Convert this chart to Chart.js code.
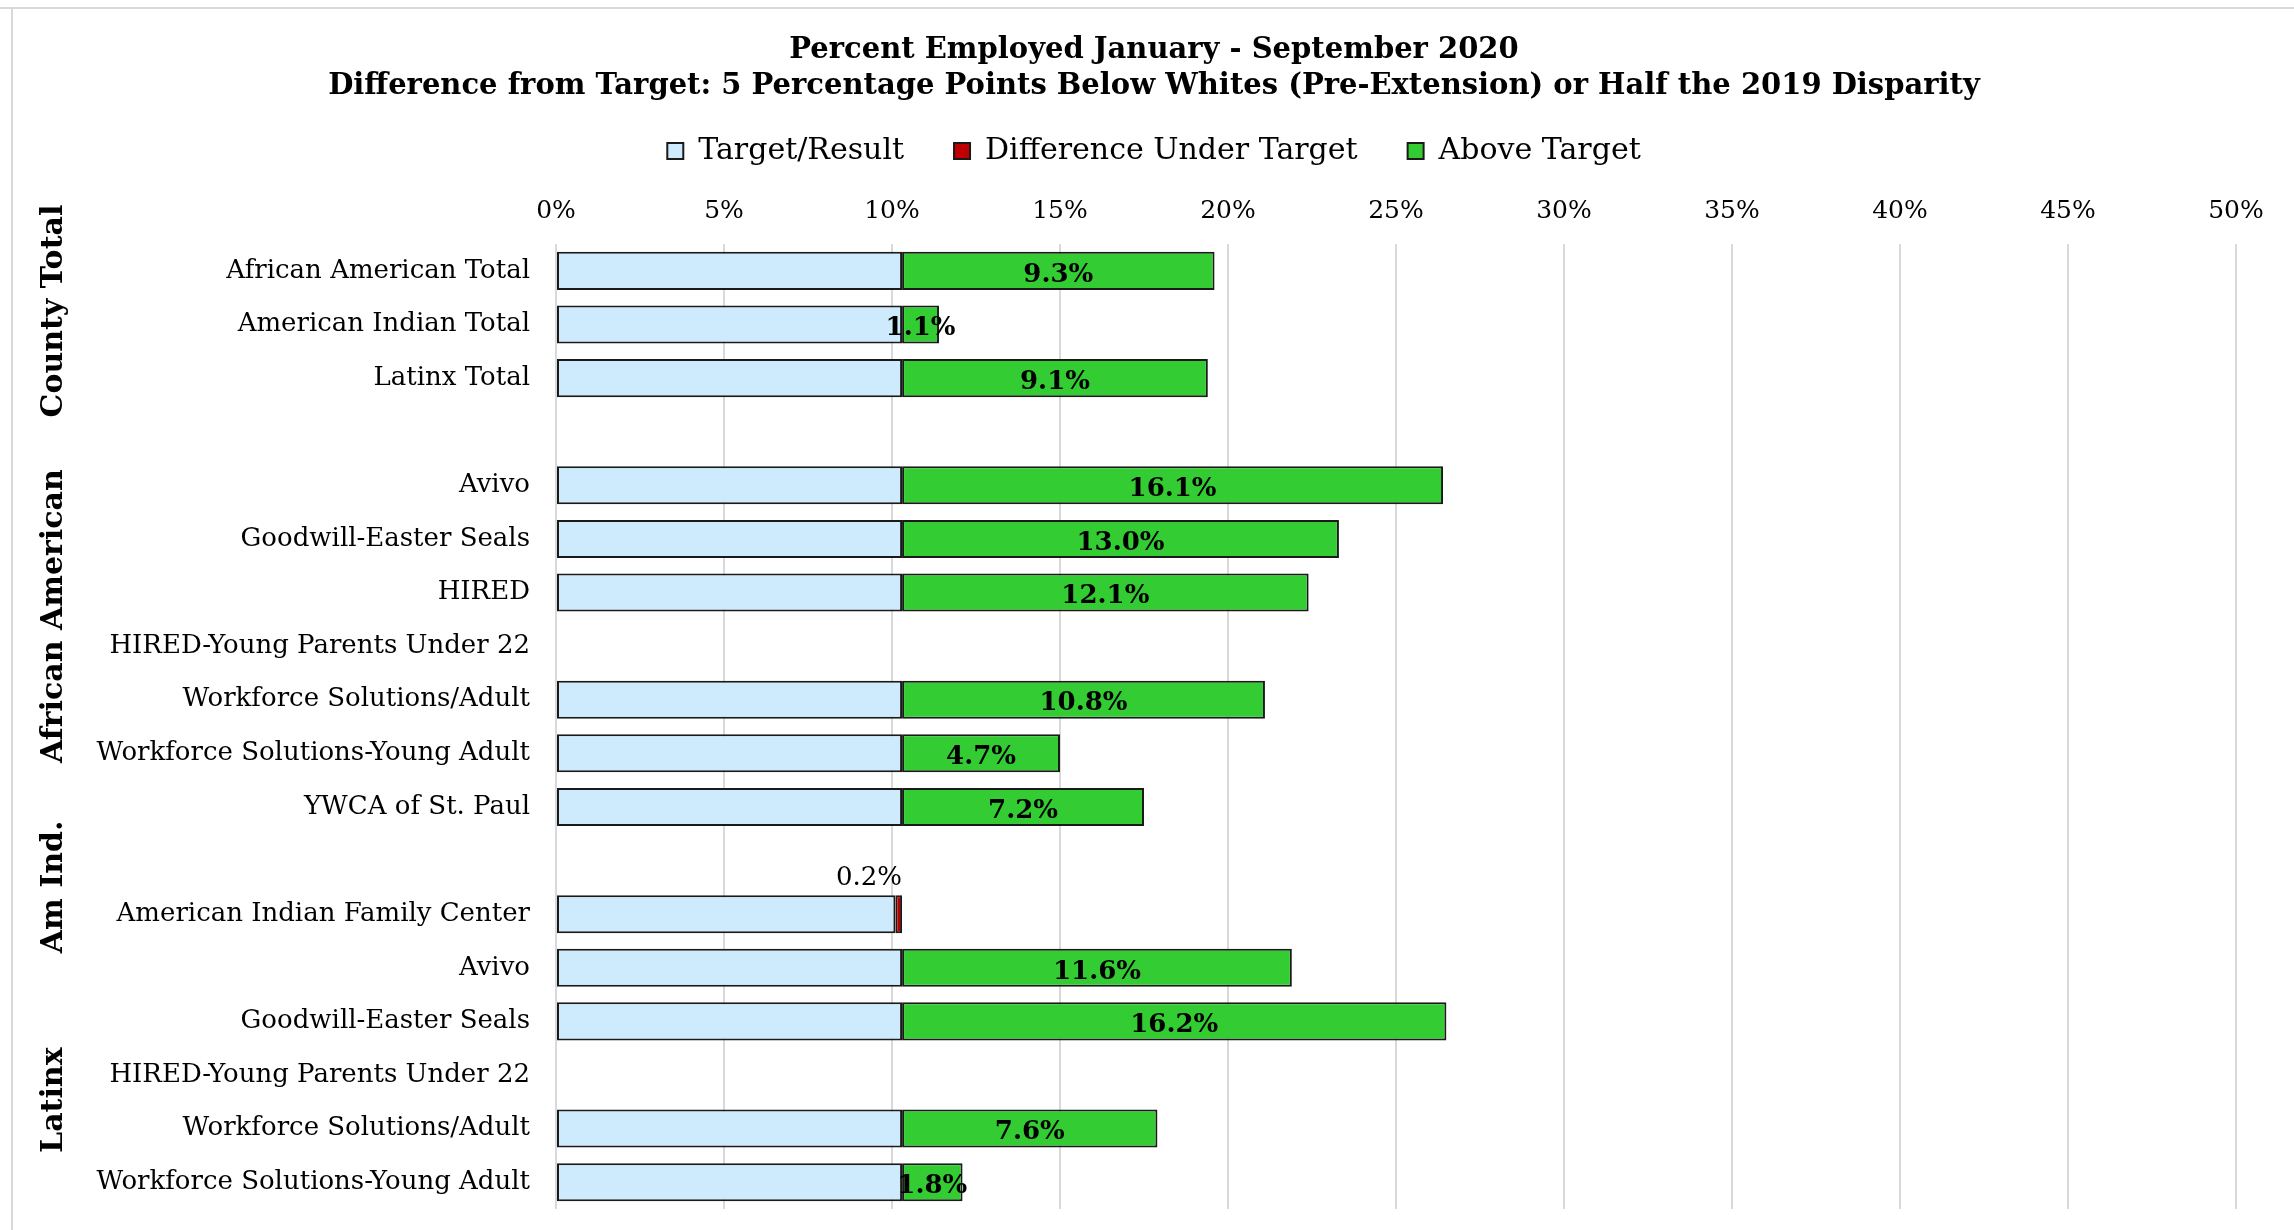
<!DOCTYPE html>
<html>
<head>
<meta charset="utf-8">
<script src="https://cdn.jsdelivr.net/npm/chart.js@4.4.1/dist/chart.umd.min.js"></script>
<style>
  html, body { margin: 0; padding: 0; background: #fff; }
</style>
</head>
<body>
<canvas id="chart" width="2294" height="1230"></canvas>
<script>
const categories = [
  "African American Total", "American Indian Total", "Latinx Total", "",
  "Avivo", "Goodwill-Easter Seals", "HIRED", "HIRED-Young Parents Under 22",
  "Workforce Solutions/Adult", "Workforce Solutions-Young Adult", "YWCA of St. Paul", "",
  "American Indian Family Center", "Avivo", "Goodwill-Easter Seals",
  "HIRED-Young Parents Under 22", "Workforce Solutions/Adult", "Workforce Solutions-Young Adult"
];
const targetResult = [10.3, 10.3, 10.3, null, 10.3, 10.3, 10.3, null, 10.3, 10.3, 10.3, null, 10.1, 10.3, 10.3, null, 10.3, 10.3];
const underTarget  = [null, null, null, null, null, null, null, null, null, null, null, null, 0.2, null, null, null, null, null];
const aboveTarget  = [9.3, 1.1, 9.1, null, 16.1, 13.0, 12.1, null, 10.8, 4.7, 7.2, null, null, 11.6, 16.2, null, 7.6, 1.8];
const groupNames = ["County Total", "African American", "Am Ind.", "Latinx"];
const titleLines = [
  "Percent Employed January - September 2020",
  "Difference from Target: 5 Percentage Points Below Whites (Pre-Extension) or Half the 2019 Disparity"
];

const FONT = "'DejaVu Serif', Georgia, serif";

// light frame along the top and left, like the exported Excel chart
const framePlugin = {
  id: "frame",
  beforeDraw(chart) {
    const ctx = chart.ctx;
    ctx.save();
    ctx.fillStyle = "#fff";
    ctx.fillRect(0, 0, chart.width, chart.height);
    ctx.strokeStyle = "#d9d9d9";
    ctx.lineWidth = 2;
    ctx.beginPath();
    ctx.moveTo(0, 8);
    ctx.lineTo(chart.width, 8);
    ctx.moveTo(12, 8);
    ctx.lineTo(12, chart.height);
    ctx.stroke();
    ctx.restore();
  }
};

const valueLabels = {
  id: "valueLabels",
  afterDatasetsDraw(chart) {
    const ctx = chart.ctx;
    ctx.save();
    ctx.fillStyle = "#000";

    ctx.font = "bold 26px " + FONT;
    ctx.textAlign = "center";
    ctx.textBaseline = "middle";
    chart.getDatasetMeta(2).data.forEach((bar, i) => {
      const v = aboveTarget[i];
      if (v == null) return;
      ctx.fillText(v.toFixed(1) + "%", (bar.x + bar.base) / 2, bar.y + 4);
    });

    ctx.font = "26px " + FONT;
    ctx.textAlign = "right";
    ctx.textBaseline = "bottom";
    chart.getDatasetMeta(1).data.forEach((bar, i) => {
      const v = underTarget[i];
      if (v == null) return;
      ctx.fillText(v.toFixed(1) + "%", bar.x, bar.y - bar.height / 2 - 4);
    });
    ctx.restore();
  }
};

const groupLabels = {
  id: "groupLabels",
  afterDraw(chart, args, opts) {
    const ctx = chart.ctx;
    const y = chart.scales.y;
    ctx.save();
    ctx.fillStyle = "#000";
    ctx.font = "bold 30px " + FONT;
    ctx.textAlign = "center";
    ctx.textBaseline = "middle";
    groupNames.forEach((name, k) => {
      ctx.save();
      ctx.translate(opts.x, y.getPixelForValue(opts.centers[k]));
      ctx.rotate(-Math.PI / 2);
      ctx.fillText(name, 0, 0);
      ctx.restore();
    });
    ctx.restore();
  }
};

const barStyle = { borderColor: "#1a1a1a", borderWidth: 2, borderSkipped: false };

new Chart(document.getElementById("chart"), {
  type: "bar",
  data: {
    labels: categories,
    datasets: [
      { label: "Target/Result", data: targetResult, backgroundColor: "#cdebfc", ...barStyle },
      { label: "Difference Under Target", data: underTarget, backgroundColor: "#c00000", ...barStyle },
      { label: "Above Target", data: aboveTarget, backgroundColor: "#33cc33", ...barStyle }
    ]
  },
  options: {
    indexAxis: "y",
    responsive: false,
    animation: false,
    devicePixelRatio: 1,
    datasets: { bar: { barPercentage: 0.71, categoryPercentage: 1 } },
    layout: { padding: { left: 14, right: 0, top: 0, bottom: 21 } },
    plugins: {
      title: {
        display: true,
        text: titleLines,
        color: "#000",
        font: { family: FONT, size: 29, weight: "bold", lineHeight: 1.26 },
        padding: { top: 32, bottom: -19 }
      },
      legend: {
        labels: {
          color: "#000",
          font: { family: FONT, size: 30 },
          boxWidth: 16,
          boxHeight: 16,
          padding: 50
        }
      },
      tooltip: { enabled: false },
      groupLabels: { x: 54, centers: [0.75, 6.44, 11.49, 15.47] }
    },
    scales: {
      x: {
        position: "top",
        stacked: true,
        min: 0,
        max: 50,
        ticks: { stepSize: 5, callback: v => v + "%", color: "#000", font: { family: FONT, size: 25 }, padding: 18 },
        grid: { color: "#d9d9d9", lineWidth: 2, drawTicks: false },
        border: { display: false },
        afterFit: s => { s.height = 68; s.paddingRight = 58; }
      },
      y: {
        stacked: true,
        grid: { display: false },
        border: { display: false },
        ticks: { color: "#000", font: { family: FONT, size: 26 }, padding: 18, autoSkip: false },
        afterFit: s => { s.width = 556 - 14; s.paddingTop = 0; s.paddingBottom = 0; }
      }
    }
  },
  plugins: [framePlugin, valueLabels, groupLabels]
});
</script>
</body>
</html>
